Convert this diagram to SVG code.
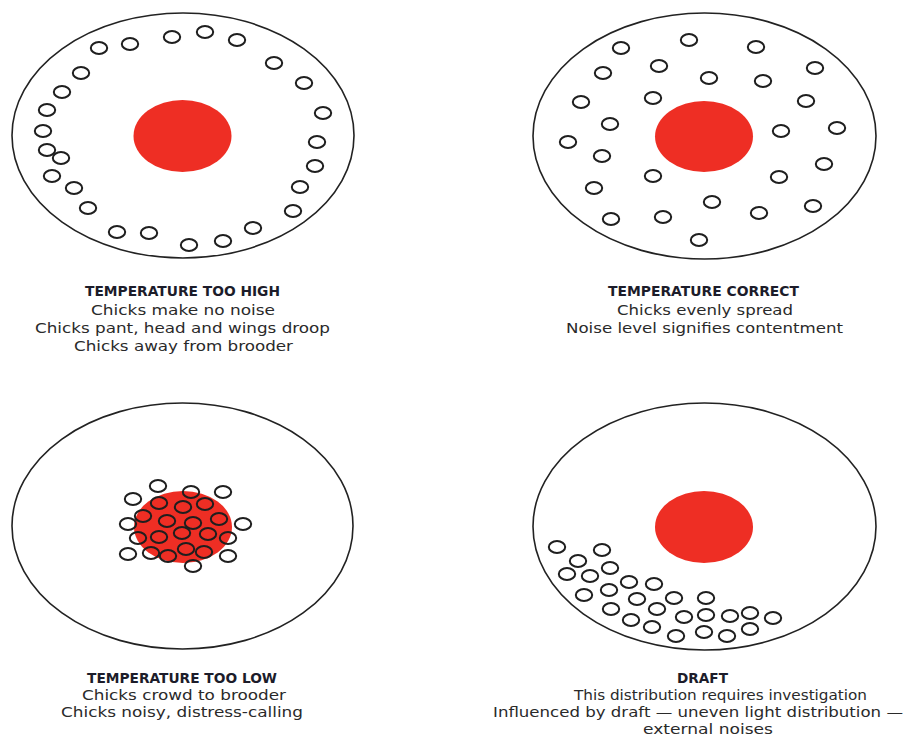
<svg xmlns="http://www.w3.org/2000/svg" width="906" height="737" viewBox="0 0 906 737">
<style>
.plate{fill:#fff;stroke:#222;stroke-width:1.6}
.heat{fill:#ee2e24}
.chick{fill:none;stroke:#1e1e1e;stroke-width:2}
.h{font-family:"DejaVu Sans","Liberation Sans",sans-serif;font-weight:bold;font-size:14px;fill:#1c1c2a}
.t{font-family:"DejaVu Sans","Liberation Sans",sans-serif;font-size:14px;fill:#2a2a2a}
</style>
<defs>
<ellipse id="c" cx="0" cy="0" rx="8.2" ry="5.9" class="chick"/>
</defs>
<rect width="906" height="737" fill="#fff"/>

<g id="too-high">
<ellipse class="plate" cx="183" cy="135.5" rx="171" ry="122.5"/>
<ellipse class="heat" cx="182.5" cy="136" rx="49" ry="36"/>
<use href="#c" x="99" y="48"/><use href="#c" x="130" y="44"/><use href="#c" x="172" y="37"/><use href="#c" x="205" y="32"/><use href="#c" x="237" y="40"/><use href="#c" x="274" y="63"/><use href="#c" x="304" y="83"/><use href="#c" x="323" y="113"/><use href="#c" x="317" y="142"/><use href="#c" x="315" y="166"/><use href="#c" x="300" y="187"/><use href="#c" x="293" y="211"/><use href="#c" x="253" y="228"/><use href="#c" x="223" y="241"/><use href="#c" x="189" y="245"/><use href="#c" x="149" y="233"/><use href="#c" x="117" y="232"/><use href="#c" x="88" y="208"/><use href="#c" x="74" y="188"/><use href="#c" x="52" y="176"/><use href="#c" x="61" y="158"/><use href="#c" x="47" y="150"/><use href="#c" x="43" y="131"/><use href="#c" x="47" y="110"/><use href="#c" x="62" y="92"/><use href="#c" x="81" y="73"/>
<text class="h" x="85" y="296" textLength="195" lengthAdjust="spacingAndGlyphs">TEMPERATURE TOO HIGH</text>
<text class="t" x="91" y="315" textLength="184" lengthAdjust="spacingAndGlyphs">Chicks make no noise</text>
<text class="t" x="35" y="333" textLength="295" lengthAdjust="spacingAndGlyphs">Chicks pant, head and wings droop</text>
<text class="t" x="74" y="351" textLength="219" lengthAdjust="spacingAndGlyphs">Chicks away from brooder</text>
</g>

<g id="correct">
<ellipse class="plate" cx="704.5" cy="136" rx="171.5" ry="123"/>
<ellipse class="heat" cx="704" cy="136.5" rx="49" ry="35.5"/>
<use href="#c" x="621" y="48"/><use href="#c" x="689" y="40"/><use href="#c" x="756" y="47"/><use href="#c" x="815" y="68"/><use href="#c" x="603" y="73"/><use href="#c" x="659" y="66"/><use href="#c" x="709" y="78"/><use href="#c" x="763" y="81"/><use href="#c" x="581" y="102"/><use href="#c" x="653" y="98"/><use href="#c" x="806" y="101"/><use href="#c" x="610" y="124"/><use href="#c" x="781" y="131"/><use href="#c" x="837" y="128"/><use href="#c" x="568" y="142"/><use href="#c" x="602" y="156"/><use href="#c" x="824" y="164"/><use href="#c" x="653" y="176"/><use href="#c" x="779" y="177"/><use href="#c" x="594" y="188"/><use href="#c" x="712" y="202"/><use href="#c" x="813" y="206"/><use href="#c" x="611" y="219"/><use href="#c" x="663" y="217"/><use href="#c" x="759" y="213"/><use href="#c" x="699" y="240"/>
<text class="h" x="608" y="296" textLength="191" lengthAdjust="spacingAndGlyphs">TEMPERATURE CORRECT</text>
<text class="t" x="617" y="315" textLength="176" lengthAdjust="spacingAndGlyphs">Chicks evenly spread</text>
<text class="t" x="566" y="333" textLength="277" lengthAdjust="spacingAndGlyphs">Noise level signifies contentment</text>
</g>

<g id="too-low">
<ellipse class="plate" cx="182.5" cy="526" rx="170.5" ry="123"/>
<ellipse class="heat" cx="183" cy="527" rx="49" ry="36"/>
<use href="#c" x="158" y="486"/><use href="#c" x="191" y="492"/><use href="#c" x="223" y="492"/><use href="#c" x="133" y="499"/><use href="#c" x="159" y="503"/><use href="#c" x="183" y="507"/><use href="#c" x="205" y="504"/><use href="#c" x="143" y="516"/><use href="#c" x="167" y="521"/><use href="#c" x="193" y="523"/><use href="#c" x="219" y="519"/><use href="#c" x="128" y="524"/><use href="#c" x="243" y="524"/><use href="#c" x="138" y="538"/><use href="#c" x="159" y="537"/><use href="#c" x="182" y="533"/><use href="#c" x="208" y="534"/><use href="#c" x="228" y="538"/><use href="#c" x="128" y="554"/><use href="#c" x="151" y="553"/><use href="#c" x="168" y="556"/><use href="#c" x="186" y="549"/><use href="#c" x="204" y="552"/><use href="#c" x="228" y="556"/><use href="#c" x="193" y="566"/>
<text class="h" x="87" y="683" textLength="190" lengthAdjust="spacingAndGlyphs">TEMPERATURE TOO LOW</text>
<text class="t" x="82" y="700" textLength="204" lengthAdjust="spacingAndGlyphs">Chicks crowd to brooder</text>
<text class="t" x="61" y="717" textLength="242" lengthAdjust="spacingAndGlyphs">Chicks noisy, distress-calling</text>
</g>

<g id="draft">
<ellipse class="plate" cx="704.5" cy="526.5" rx="171.5" ry="123.5"/>
<ellipse class="heat" cx="704" cy="527" rx="49" ry="36"/>
<use href="#c" x="557" y="547"/><use href="#c" x="602" y="550"/><use href="#c" x="578" y="561"/><use href="#c" x="610" y="568"/><use href="#c" x="567" y="574"/><use href="#c" x="590" y="576"/><use href="#c" x="629" y="582"/><use href="#c" x="654" y="584"/><use href="#c" x="584" y="595"/><use href="#c" x="609" y="590"/><use href="#c" x="637" y="599"/><use href="#c" x="674" y="598"/><use href="#c" x="706" y="598"/><use href="#c" x="611" y="609"/><use href="#c" x="657" y="609"/><use href="#c" x="684" y="617"/><use href="#c" x="706" y="615"/><use href="#c" x="730" y="616"/><use href="#c" x="750" y="613"/><use href="#c" x="773" y="618"/><use href="#c" x="631" y="620"/><use href="#c" x="652" y="627"/><use href="#c" x="676" y="636"/><use href="#c" x="704" y="632"/><use href="#c" x="727" y="636"/><use href="#c" x="750" y="629"/>
<text class="h" x="677" y="683" textLength="51" lengthAdjust="spacingAndGlyphs">DRAFT</text>
<text class="t" x="574" y="699.5" textLength="293" lengthAdjust="spacingAndGlyphs">This distribution requires investigation</text>
<text class="t" x="493" y="717" textLength="410" lengthAdjust="spacingAndGlyphs">Influenced by draft — uneven light distribution —</text>
<text class="t" x="643" y="734" textLength="130" lengthAdjust="spacingAndGlyphs">external noises</text>
</g>
</svg>
